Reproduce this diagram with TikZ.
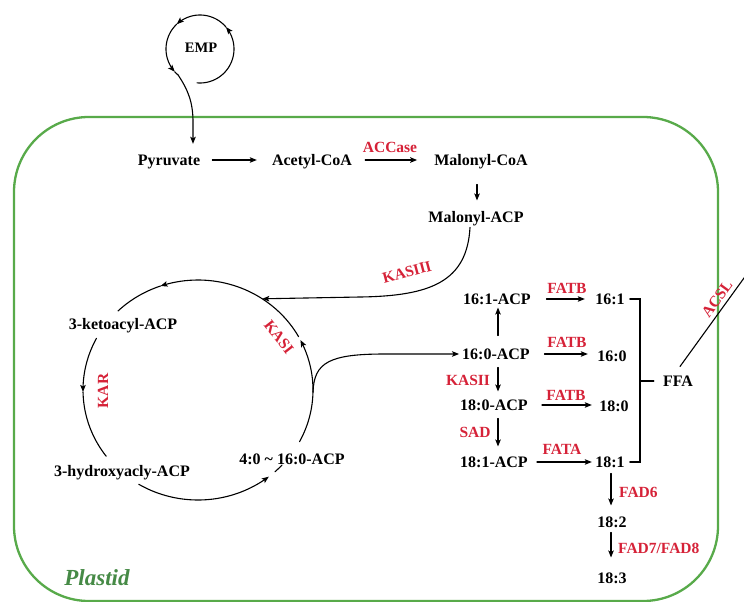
\documentclass[tikz,border=0pt]{standalone}
\usepackage{fontspec}
\setmainfont{Liberation Serif}
\usetikzlibrary{arrows.meta}
\definecolor{plastidgreen}{RGB}{88,170,74}
\definecolor{plastidtext}{RGB}{70,138,70}
\definecolor{enzred}{RGB}{214,34,56}

\begin{document}
\begin{tikzpicture}[x=1pt,y=-1pt,
  >={Stealth[length=7pt,width=5.5pt,inset=1.5pt]},
  met/.style={font=\fontsize{16}{18}\selectfont\bfseries, inner sep=1pt, text height=10.6pt, text depth=0pt},
  enz/.style={font=\fontsize{15.5}{18}\selectfont\bfseries, text=enzred, inner sep=1pt, text height=10.3pt, text depth=0pt},
  wire/.style={line width=1.1pt, line cap=round},
  flow/.style={wire, ->},
]
\useasboundingbox (0,0) rectangle (744,602);
\fill[white] (0,0) rectangle (744,602);

% plastid envelope
\draw[plastidgreen, line width=2.3pt, rounded corners=75pt] (14,117) rectangle (718,601);
\node[font=\fontsize{23}{26}\selectfont\bfseries\itshape, text=plastidtext, text height=15pt, text depth=0pt, inner sep=0pt] (plastid) at (97,578) {Plastid};

% metabolites
\node[met, font=\fontsize{14.5}{17}\selectfont\bfseries, text height=9.6pt] (emp) at (201,48) {EMP};
\node[met] (pyr) at (169,160) {Pyruvate};
\node[met] (acoa) at (312,160) {Acetyl-CoA};
\node[met] (mcoa) at (481,160) {Malonyl-CoA};
\node[met] (macp) at (476,217) {Malonyl-ACP};

\node[met] (keto) at (123,324) {3-ketoacyl-ACP};
\node[met] (hydroxy) at (122,471) {3-hydroxyacly-ACP};
\node[met] (acyl) at (292,459) {4:0 \textasciitilde{} 16:0-ACP};

\node[met] (a161) at (497,299) {16:1-ACP};
\node[met] (a160) at (496,354) {16:0-ACP};
\node[met] (a180) at (494,405) {18:0-ACP};
\node[met] (a181) at (494,462) {18:1-ACP};
\node[met] (f161) at (610,299) {16:1};
\node[met] (f160) at (612,356) {16:0};
\node[met] (f180) at (614,406) {18:0};
\node[met] (f181) at (610,462) {18:1};
\node[met] (f182) at (612,522) {18:2};
\node[met] (f183) at (612,578) {18:3};
\node[met] (ffa) at (678,381) {FFA};

% enzymes
\node[enz] (accase) at (390,147) {ACCase};
\node[enz, rotate=15] (kasiii) at (407,272) {KASIII};
\node[enz, rotate=90] (kar) at (103,391) {KAR};
\node[enz, rotate=-52] (kasi) at (279,337) {KASI};
\node[enz] (kasii) at (468,380) {KASII};
\node[enz] (sad) at (475,432) {SAD};
\node[enz] (fatb1) at (567,288) {FATB};
\node[enz] (fatb2) at (567,342) {FATB};
\node[enz] (fatb3) at (566,395) {FATB};
\node[enz] (fata) at (562,449) {FATA};
\node[enz, rotate=54] (acsl) at (717,299) {ACSL};
\node[enz, anchor=west] (fad6) at (618,492) {FAD6};
\node[enz, anchor=west] (fad78) at (617,548) {FAD7/FAD8};

% glycolysis loop feeding pyruvate (split so each piece carries its own tip)
\coordinate (empend) at (178.15,75.05);
\draw[flow] plot[domain=-95:40, samples=40, smooth] ({200+34*cos(\x)},{49-34*sin(\x)});
\draw[flow] plot[domain=40:133, samples=30, smooth] ({200+34*cos(\x)},{49-34*sin(\x)});
\draw[flow] plot[domain=133:222, samples=30, smooth] ({200+34*cos(\x)},{49-34*sin(\x)});
\draw[wire] plot[domain=222:230, samples=5, smooth] ({200+34*cos(\x)},{49-34*sin(\x)});
\draw[flow] (empend) .. controls (188,90) and (193,102) .. (193,122) -- ([xshift=24pt,yshift=9.7pt]pyr.north);

% malonyl supply
\draw[flow, shorten <=11pt, shorten >=14pt] (pyr) -- (acoa);
\draw[flow, shorten <=12pt, shorten >=16pt] (acoa) -- (mcoa);
\draw[flow, shorten <=18pt, shorten >=10pt] ([xshift=-4pt]mcoa.south) -- ([xshift=1pt]macp.north);

% elongation cycle
\coordinate (kin) at (262.3,298.8);
\coordinate (kbr) at (313,392);
\draw[flow] plot[domain=29:109, samples=40, smooth] ({198+115*cos(\x)},{390-110*sin(\x)});
\draw[wire] plot[domain=109:134, samples=15, smooth] ({198+115*cos(\x)},{390-110*sin(\x)});
\draw[flow] plot[domain=-28:27, samples=30, smooth] ({198+115*cos(\x)},{390-110*sin(\x)});
\draw[flow] plot[domain=152:181, samples=20, smooth] ({198+115*cos(\x)},{390-110*sin(\x)});
\draw[wire] plot[domain=181:217, samples=20, smooth] ({198+115*cos(\x)},{390-110*sin(\x)});
\draw[flow] plot[domain=239:308, samples=30, smooth] ({198+115*cos(\x)},{390-110*sin(\x)});
\draw[wire] plot[domain=312:317, samples=5] ({198+115*cos(\x)},{390-110*sin(\x)});

\draw[flow] ([xshift=-6pt,yshift=-4pt]macp.south) .. controls (467,282) and (430,296) .. (360,297) -- (kin);
\draw[flow, shorten >=2pt] (kbr) .. controls (314,362) and (330,354) .. (385,354) -- (a160.west);

% desaturation / elongation of ACP esters
\draw[flow, shorten <=12pt, shorten >=2pt] ([xshift=2pt]a160.north) -- ([xshift=1pt]a161.south);
\draw[flow, shorten <=7pt, shorten >=7pt] ([xshift=2pt]a160.south) -- ([xshift=4pt]a180.north);
\draw[flow, shorten <=7pt, shorten >=9pt] ([xshift=4pt]a180.south) -- ([xshift=4pt]a181.north);

% thioesterases
\draw[flow, shorten <=14.5pt, shorten >=9.3pt] (a161.east) -- (f161.west);
\draw[flow, shorten <=13.5pt, shorten >=8.3pt] (a160.east) -- (a160.east -| f160.west);
\draw[flow, shorten <=13pt, shorten >=6.3pt] (a180.east) -- (a180.east -| f180.west);
\draw[flow, shorten <=8pt, shorten >=2.3pt] (a181.east) -- (f181.west);

% free fatty acid pool
\coordinate (brx) at (640,381);
\draw[wire] ([xshift=4pt]f161.east) -| (brx) |- ([xshift=4pt]f181.east);
\draw[wire] (brx) -- ([xshift=-8pt]ffa.west);
\coordinate (acslend) at (748,272.5);
\draw[wire] ([xshift=2pt,yshift=8pt]ffa.north) -- (acslend);

% further desaturation
\draw[flow, shorten <=5pt, shorten >=10pt] ([xshift=1pt]f181.south) -- ([xshift=-1pt]f182.north);
\draw[flow, shorten <=4pt, shorten >=14pt] ([xshift=-1pt]f182.south) -- ([xshift=-1pt]f183.north);
\end{tikzpicture}
\end{document}
